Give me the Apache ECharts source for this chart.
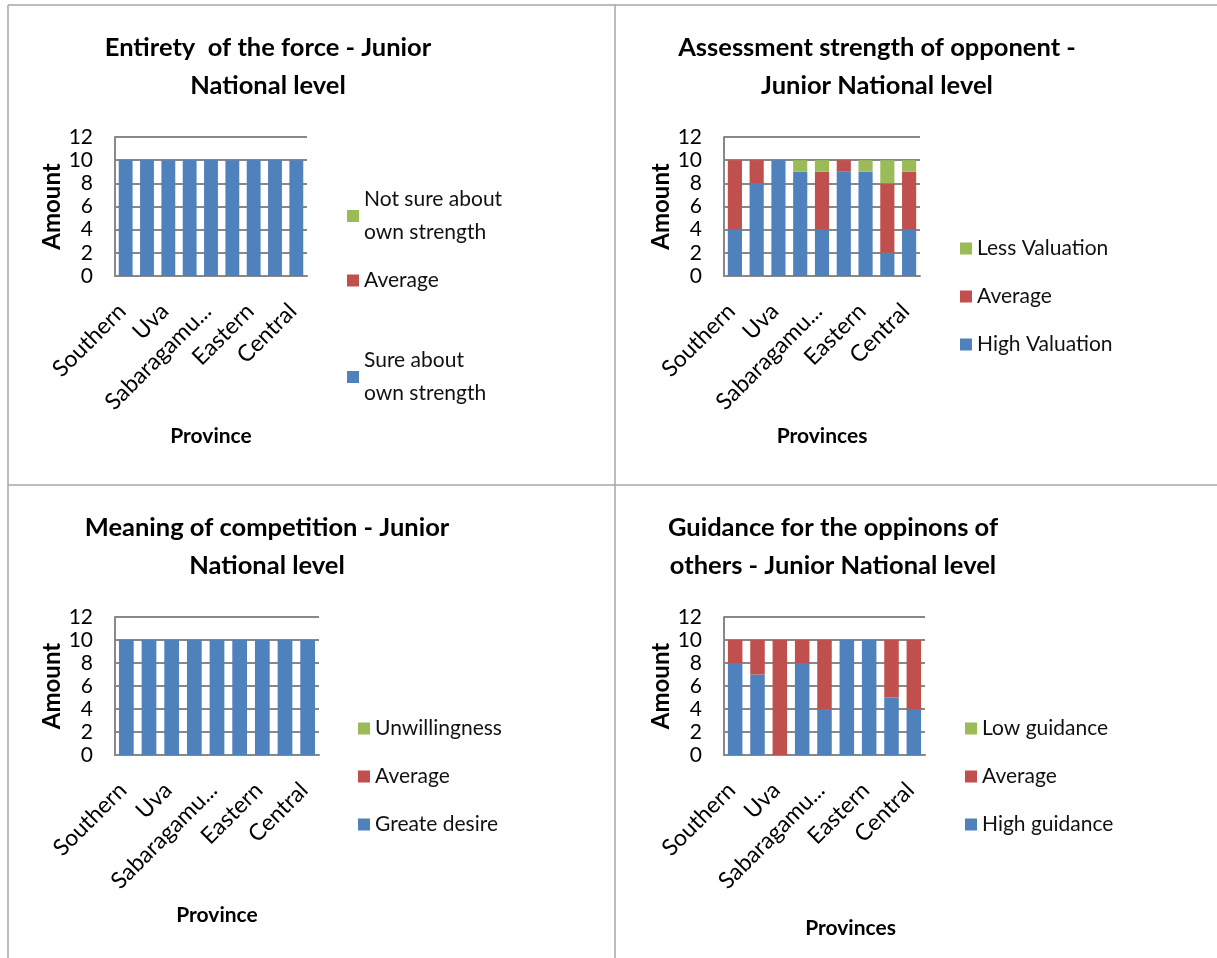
<!DOCTYPE html>
<html>
<head>
<meta charset="utf-8">
<script src="https://cdn.jsdelivr.net/npm/echarts@6/dist/echarts.min.js"></script>
<style>
  html, body { margin: 0; padding: 0; background: #fff; }
  #main { width: 1217px; height: 958px; }
</style>
</head>
<body>
<div id="main"></div>
<script>
// provinces (only every second name is printed on the axis)
var provinces = ['Southern', 'Western', 'Uva', 'North Western', 'Sabaragamuwa',
                 'Northern', 'Eastern', 'North Central', 'Central'];
var yTicks = [0, 2, 4, 6, 8, 10, 12];

// chart 1 - Entirety of the force
var forceSure    = [10, 10, 10, 10, 10, 10, 10, 10, 10];
var forceAverage = [0, 0, 0, 0, 0, 0, 0, 0, 0];
var forceNotSure = [0, 0, 0, 0, 0, 0, 0, 0, 0];

// chart 2 - Assessment strength of opponent
var oppHigh    = [4, 8, 10, 9, 4, 9, 9, 2, 4];
var oppAverage = [6, 2, 0, 0, 5, 1, 0, 6, 5];
var oppLess    = [0, 0, 0, 1, 1, 0, 1, 2, 1];

// chart 3 - Meaning of competition
var compDesire  = [10, 10, 10, 10, 10, 10, 10, 10, 10];
var compAverage = [0, 0, 0, 0, 0, 0, 0, 0, 0];
var compUnwill  = [0, 0, 0, 0, 0, 0, 0, 0, 0];

// chart 4 - Guidance for the oppinons of others
var guideHigh    = [8, 7, 0, 8, 4, 10, 10, 5, 4];
var guideAverage = [2, 3, 10, 2, 6, 0, 0, 5, 6];
var guideLow     = [0, 0, 0, 0, 0, 0, 0, 0, 0];

var BLUE = '#4F81BD', RED = '#C0504D', GREEN = '#9BBB59';
var FONT = 'Lato, "Open Sans", sans-serif';

var panels = [
  {
    title: 'Entirety  of the force - Junior\nNational level', tx: 268, ty: 28,
    grid: {left: 115, top: 137, width: 192, height: 139},
    xName: 'Province', xNamePad: 0,
    names: ['Sure about own strength', 'Average', 'Not sure about own strength'],
    labels: ['Sure about\nown strength', 'Average', 'Not sure about\nown strength'],
    data: [forceSure, forceAverage, forceNotSure],
    legX: 347, legY: [360, 280, 199]
  },
  {
    title: 'Assessment strength of opponent -\nJunior National level', tx: 877, ty: 28,
    grid: {left: 724, top: 137, width: 196, height: 139},
    xName: 'Provinces', xNamePad: 0,
    names: ['High Valuation', 'Average', 'Less Valuation'],
    labels: ['High Valuation', 'Average', 'Less Valuation'],
    data: [oppHigh, oppAverage, oppLess],
    legX: 960, legY: [344, 296, 248]
  },
  {
    title: 'Meaning of competition - Junior\nNational level', tx: 267, ty: 508,
    grid: {left: 115, top: 617, width: 204, height: 138},
    xName: 'Province', xNamePad: 0,
    names: ['Greate desire', 'Average', 'Unwillingness'],
    labels: ['Greate desire', 'Average', 'Unwillingness'],
    data: [compDesire, compAverage, compUnwill],
    legX: 358, legY: [824, 776, 728]
  },
  {
    title: 'Guidance for the oppinons of\nothers - Junior National level', tx: 833, ty: 508,
    grid: {left: 724, top: 617, width: 201, height: 138},
    xName: 'Provinces', xNamePad: 52, xNameGap: 163,
    names: ['High guidance', 'Average', 'Low guidance'],
    labels: ['High guidance', 'Average', 'Low guidance'],
    data: [guideHigh, guideAverage, guideLow],
    legX: 965, legY: [824, 776, 728]
  }
];

var colors = [BLUE, RED, GREEN];
var option = {
  animation: false,
  backgroundColor: '#fff',
  title: [], grid: [], xAxis: [], yAxis: [], series: [], legend: [],
  graphic: [
    {type: 'line', shape: {x1: 8, y1: 5, x2: 1217, y2: 5}, style: {stroke: '#a6a6a6', lineWidth: 1.5}},
    {type: 'line', shape: {x1: 8, y1: 5, x2: 8, y2: 958}, style: {stroke: '#a6a6a6', lineWidth: 1.5}},
    {type: 'line', shape: {x1: 615, y1: 5, x2: 615, y2: 958}, style: {stroke: '#a6a6a6', lineWidth: 1.5}},
    {type: 'line', shape: {x1: 8, y1: 485, x2: 1217, y2: 485}, style: {stroke: '#a6a6a6', lineWidth: 1.5}}
  ]
};

panels.forEach(function (p, i) {
  option.title.push({
    text: p.title, left: p.tx, top: p.ty + 1, textAlign: 'center', padding: 0,
    textStyle: {fontFamily: FONT, fontWeight: 'bold', fontSize: 25.5, lineHeight: 38, color: '#000'}
  });
  option.grid.push(p.grid);
  option.xAxis.push({
    type: 'category', gridIndex: i, data: provinces,
    name: p.xName, nameLocation: 'middle', nameGap: p.xNameGap || 150,
    nameTextStyle: {fontFamily: FONT, fontWeight: 'bold', fontSize: 21, color: '#000',
                    padding: [0, 0, 0, p.xNamePad]},
    axisLine: {lineStyle: {color: '#888', width: 2}},
    axisTick: {show: false},
    axisLabel: {
      interval: 1, rotate: 45, margin: 28, padding: [0, 5, 0, 0],
      fontFamily: FONT, fontSize: 23, color: '#000',
      formatter: function (v) { return v.length > 11 ? v.slice(0, 10) + '...' : v; }
    }
  });
  option.yAxis.push({
    type: 'value', gridIndex: i, min: 0, max: 12, interval: 2,
    name: 'Amount', nameLocation: 'middle', nameGap: 50,
    nameTextStyle: {fontFamily: FONT, fontWeight: 'bold', fontSize: 24, color: '#000'},
    axisLine: {show: true, lineStyle: {color: '#888', width: 2}},
    axisTick: {show: false},
    axisLabel: {fontFamily: FONT, fontSize: 21, color: '#000', margin: 22,
                formatter: function (v) { return yTicks.indexOf(v) >= 0 ? String(v) : ''; }},
    splitLine: {lineStyle: {color: '#888', width: 2}}
  });
  p.names.forEach(function (n, k) {
    option.series.push({
      type: 'bar', name: n, stack: 's' + i, xAxisIndex: i, yAxisIndex: i,
      data: p.data[k], barCategoryGap: '35%',
      itemStyle: {color: colors[k]}
    });
    option.legend.push({
      data: [n], orient: 'vertical', left: p.legX, top: p.legY[k] - 16,
      padding: 0, icon: 'rect', itemWidth: 12, itemHeight: 12, itemGap: 0,
      selectedMode: false,
      formatter: (function (lbl) { return function () { return lbl; }; })(p.labels[k]),
      textStyle: {fontFamily: FONT, fontSize: 21, color: '#111', lineHeight: 33}
    });
  });
});

var chart = echarts.init(document.getElementById('main'));
chart.setOption(option);
</script>
</body>
</html>
